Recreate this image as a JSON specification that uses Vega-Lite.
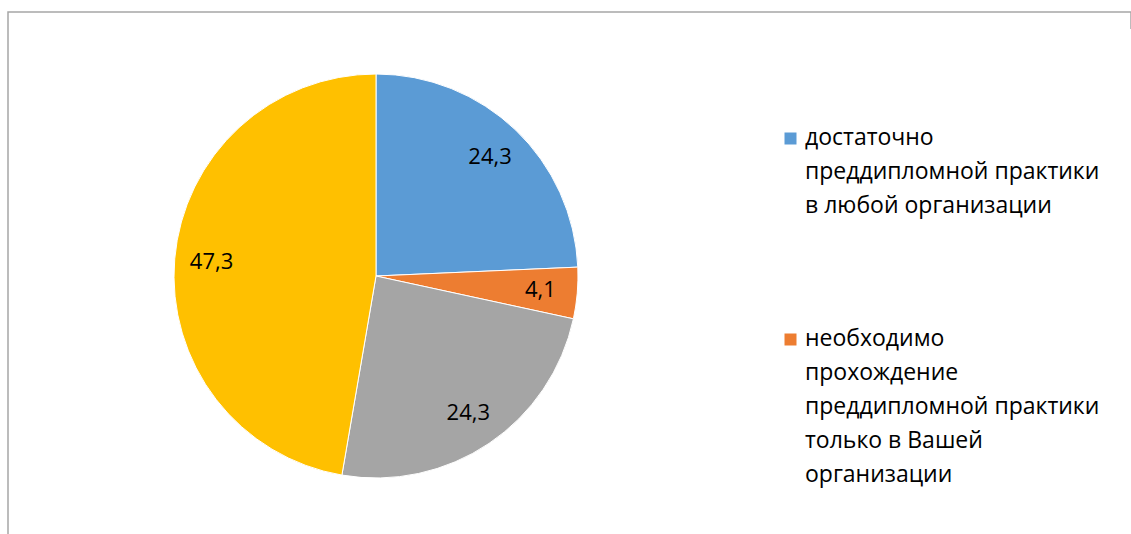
{
  "$schema": "https://vega.github.io/schema/vega-lite/v6.json",
  "width": 1123,
  "height": 522,
  "autosize": {"type": "none"},
  "padding": {"left": 8, "top": 12, "right": 0, "bottom": 0},
  "background": "white",
  "view": {"stroke": "#a6a6a6", "strokeWidth": 1.5, "strokeDash": [1140, 1628, 530]},
  "config": {
    "locale": {"number": {"decimal": ",", "thousands": " ", "grouping": [3], "currency": ["", " ₽"]}},
    "style": {"guide-label": {"lineHeight": 34, "dy": -12}}
  },
  "data": {
    "values": [
      {"n": 1, "name": "достаточно\nпреддипломной практики\nв любой организации", "v": 24.3},
      {"n": 2, "name": "необходимо\nпрохождение\nпреддипломной практики\nтолько в Вашей\nорганизации", "v": 4.1},
      {"n": 3, "name": "необходимо дополнительное обучение", "v": 24.3},
      {"n": 4, "name": "затрудняюсь ответить", "v": 47.3}
    ]
  },
  "encoding": {
    "theta": {"field": "v", "type": "quantitative", "stack": true},
    "order": {"field": "n", "type": "quantitative"}
  },
  "layer": [
    {
      "mark": {"type": "arc", "outerRadius": 202, "x": 368, "y": 264, "stroke": "white", "strokeWidth": 1},
      "encoding": {
        "color": {
          "field": "name",
          "type": "nominal",
          "sort": null,
          "scale": {
            "domain": [
              "достаточно\nпреддипломной практики\nв любой организации",
              "необходимо\nпрохождение\nпреддипломной практики\nтолько в Вашей\nорганизации",
              "необходимо дополнительное обучение",
              "затрудняюсь ответить"
            ],
            "range": ["#5B9BD5", "#ED7D31", "#A5A5A5", "#FFC000"]
          },
          "legend": {
            "values": [
              "достаточно\nпреддипломной практики\nв любой организации",
              "необходимо\nпрохождение\nпреддипломной практики\nтолько в Вашей\nорганизации"
            ],
            "title": null,
            "orient": "none",
            "legendX": 771,
            "legendY": 115,
            "labelExpr": "split(datum.label, '\\n')",
            "labelFont": "Open Sans",
            "labelFontSize": 23,
            "labelColor": "#000000",
            "labelLimit": 0,
            "labelOffset": 3,
            "labelBaseline": "top",
            "symbolType": "square",
            "symbolSize": 144,
            "symbolStrokeWidth": 0,
            "rowPadding": 109
          }
        }
      }
    },
    {
      "mark": {"type": "text", "radius": 165, "x": 368, "y": 264, "font": "Open Sans", "fontSize": 22},
      "encoding": {
        "text": {"field": "v", "type": "quantitative", "format": ".1f"},
        "detail": {"field": "name", "type": "nominal"},
        "color": {"value": "#000000"}
      }
    }
  ]
}
